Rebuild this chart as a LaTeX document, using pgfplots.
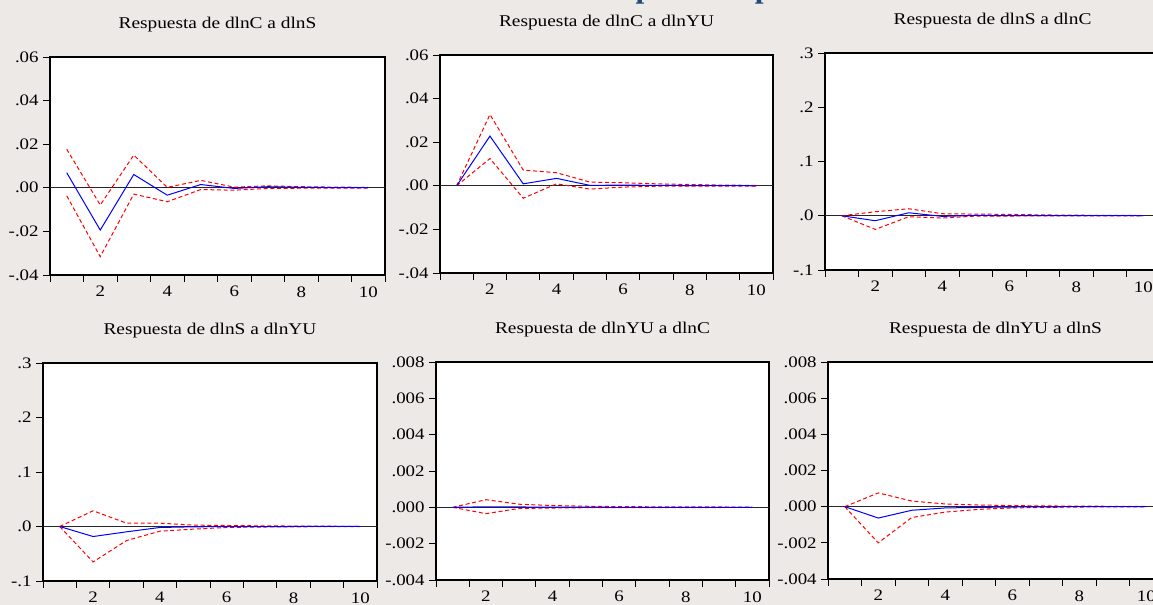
\documentclass[border=0pt]{standalone}
\usepackage{pgfplots}
\pgfplotsset{compat=1.18}
\usepackage{pgfplotstable}
\usepackage{fontspec}
\setmainfont{Liberation Serif}[FakeStretch=1.18]
\newfontfamily\slidefont{Liberation Serif}

\definecolor{slidebg}{RGB}{236,233,231}
\definecolor{slideblue}{RGB}{31,73,125}

% impulse responses: h, response, lower band, upper band
\pgfplotstableread{
h irf lo hi
1 0.0069 -0.0037 0.0177
2 -0.0194 -0.0316 -0.0079
3 0.0061 -0.0029 0.0150
4 -0.0034 -0.0064 0.0002
5 0.0015 -0.0008 0.0034
6 -0.0003 -0.0011 0.0003
7 0.0005 -0.0003 0.0009
8 0.0002 -0.0002 0.0005
9 0.0001 -0.0001 0.0003
10 0.0001 -0.0001 0.0002
}\tCS
\pgfplotstableread{
h irf lo hi
1 0 0 0
2 0.0228 0.0125 0.0327
3 0.0009 -0.0057 0.0072
4 0.0034 0.0009 0.0060
5 0.0002 -0.0015 0.0017
6 0.0003 -0.0006 0.0014
7 0.0002 -0.0002 0.0009
8 0.0001 -0.0002 0.0006
9 0.0001 -0.0001 0.0003
10 0.0000 -0.0001 0.0002
}\tCYU
\pgfplotstableread{
h irf lo hi
1 0 0 0
2 -0.0092 -0.0252 0.0074
3 0.0055 -0.0018 0.0129
4 -0.0012 -0.0043 0.0037
5 0.0006 -0.0006 0.0030
6 0.0002 -0.0005 0.0025
7 0.0001 -0.0004 0.0015
8 0.0000 -0.0003 0.0010
9 0.0000 -0.0002 0.0006
10 0.0000 -0.0001 0.0004
}\tSC
\pgfplotstableread{
h irf lo hi
1 0 0 0
2 -0.0184 -0.0650 0.0288
3 -0.0098 -0.0258 0.0061
4 -0.0018 -0.0086 0.0061
5 -0.0006 -0.0049 0.0025
6 -0.0002 -0.0018 0.0018
7 -0.0001 -0.0010 0.0012
8 0 -0.0006 0.0008
9 0 -0.0003 0.0005
10 0 -0.0002 0.0003
}\tSYU
\pgfplotstableread{
h irf lo hi
1 0 0 0
2 0.00003 -0.00035 0.00042
3 0.00002 -0.00006 0.00017
4 0.00001 -0.00004 0.00010
5 0.00001 -0.00002 0.00006
6 0 -0.00002 0.00004
7 0 -0.00001 0.00003
8 0 -0.00001 0.00002
9 0 -0.00001 0.00002
10 0 0 0.00001
}\tYUC
\pgfplotstableread{
h irf lo hi
1 0 0 0
2 -0.00063 -0.00200 0.00076
3 -0.00020 -0.00060 0.00031
4 -0.00007 -0.00030 0.00015
5 -0.00004 -0.00015 0.00009
6 -0.00002 -0.00007 0.00006
7 -0.00001 -0.00004 0.00004
8 0 -0.00002 0.00003
9 0 -0.00001 0.00002
10 0 -0.00001 0.00001
}\tYUS

\pgfplotsset{
  irf/.style={
    scale only axis, anchor=south west,
    axis background/.style={fill=white},
    xmin=0.5, xmax=10.5,
    xtick={2,4,6,8,10}, xticklabels={2,4,6,8,10},
    minor xtick={0.5,1.5,...,10.5},
    major x tick style={draw=none},
    minor x tick style={draw=black},
    scaled y ticks=false,
    tick align=outside, xtick pos=bottom, ytick pos=left,
    major tick length=5pt, minor tick length=5pt,
    every tick/.style={black, line width=0.7pt},
    axis line style={line width=0.9pt},
    tick label style={font=\fontsize{12pt}{14pt}\selectfont},
    every axis title/.style={at={(0.5,1)}, anchor=base, yshift=21.5pt,
      font=\fontsize{12.3pt}{14pt}\selectfont},
    no markers,
  },
  zero/.style={black!85, line width=0.7pt},
  band/.style={red, line width=0.75pt, dash pattern=on 3pt off 2pt},
  resp/.style={blue, line width=0.75pt},
}
\newcommand{\irfplots}[1]{%
  \addplot[zero] coordinates {(0.5,0) (10.5,0)};
  \addplot[band] table[x=h, y=hi] {#1};
  \addplot[band] table[x=h, y=lo] {#1};
  \addplot[resp] table[x=h, y=irf] {#1};
}

\begin{document}
\begin{tikzpicture}
\fill[slidebg] (0,0) rectangle (864.75pt,453.75pt);
\node[anchor=base west, inner sep=0pt, text=slideblue,
  font=\slidefont\bfseries\fontsize{23.6pt}{28pt}\selectfont]
  at (447.75pt,455.25pt) {Impulso respuesta};

% top row
\begin{axis}[irf, at={(37.5pt,247.5pt)}, width=251.25pt, height=163.5pt,
  ymin=-0.04, ymax=0.06, ytick={-0.04,-0.02,0,0.02,0.04,0.06},
  yticklabels={-.04,-.02,.00,.02,.04,.06},
  title={Respuesta de dlnC a dlnS}]
\irfplots{\tCS}
\end{axis}

\begin{axis}[irf, at={(330pt,249pt)}, width=249.75pt, height=163.5pt,
  ymin=-0.04, ymax=0.06, ytick={-0.04,-0.02,0,0.02,0.04,0.06},
  yticklabels={-.04,-.02,.00,.02,.04,.06},
  title={Respuesta de dlnC a dlnYU}]
\irfplots{\tCYU}
\end{axis}

\begin{axis}[irf, at={(618.75pt,251.25pt)}, width=251.25pt, height=162.75pt,
  ymin=-0.1, ymax=0.3, ytick={-0.1,0,0.1,0.2,0.3},
  yticklabels={-.1,.0,.1,.2,.3},
  title={Respuesta de dlnS a dlnC}]
\irfplots{\tSC}
\end{axis}

% bottom row
\begin{axis}[irf, at={(32.25pt,18pt)}, width=250.5pt, height=163.5pt,
  ymin=-0.1, ymax=0.3, ytick={-0.1,0,0.1,0.2,0.3},
  yticklabels={-.1,.0,.1,.2,.3},
  title={Respuesta de dlnS a dlnYU}]
\irfplots{\tSYU}
\end{axis}

\begin{axis}[irf, at={(327pt,18.75pt)}, width=249.75pt, height=163.5pt,
  ymin=-0.004, ymax=0.008,
  ytick={-0.004,-0.002,0,0.002,0.004,0.006,0.008},
  yticklabels={-.004,-.002,.000,.002,.004,.006,.008},
  title={Respuesta de dlnYU a dlnC}]
\irfplots{\tYUC}
\end{axis}

\begin{axis}[irf, at={(621pt,19.5pt)}, width=251.25pt, height=162.75pt,
  ymin=-0.004, ymax=0.008,
  ytick={-0.004,-0.002,0,0.002,0.004,0.006,0.008},
  yticklabels={-.004,-.002,.000,.002,.004,.006,.008},
  title={Respuesta de dlnYU a dlnS}]
\irfplots{\tYUS}
\end{axis}

\pgfresetboundingbox
\path[use as bounding box] (0,0) rectangle (864.75pt,453.75pt);
\end{tikzpicture}
\end{document}
